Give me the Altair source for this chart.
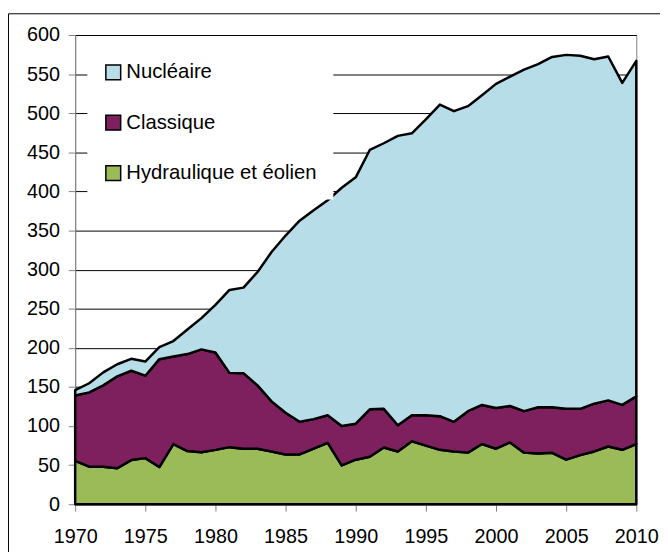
import altair as alt
import pandas as pd

years = list(range(1970, 2011))
hydraulique = [55.6, 48, 48, 46, 56.5, 59, 47.6, 77, 68, 66.6, 69.5, 73, 71, 71, 67.5, 63.7, 63.7, 71, 78.4,
               49.7, 57, 60.7, 72.5, 67.5, 80.5, 75, 69.6, 67.5, 66, 77, 71, 79, 66, 65, 65.8, 57, 62.8, 67.5,
               73.8, 69.6, 77]
classique = [83.4, 95, 104, 117.6, 114.2, 105.4, 137.9, 112, 124, 131.4, 124.5, 95, 96.6, 81, 64, 53.3, 41.7,
             37.8, 35.4, 50.3, 46, 60.7, 49.5, 33.5, 33.3, 38.8, 43, 37.9, 53, 50, 52, 46.6, 53, 59, 58.2, 65,
             59.2, 61.1, 59, 57.4, 61]
nucleaire = [7, 11.7, 16.6, 15.4, 15.3, 18.1, 15.5, 19.7, 31.4, 40, 61, 106, 109.4, 145, 191, 226.6, 257.2,
             267.2, 274.9, 304.7, 315, 331.6, 339.6, 370, 360.5, 378.2, 398.4, 397.2, 390, 396, 414.5, 421.2,
             436.7, 438.8, 448, 452.6, 451.4, 440.4, 439.7, 411.8, 429]

series_names = ["Nucléaire", "Classique", "Hydraulique et éolien"]
series_colors = ["#B7DDE8", "#7E1F5E", "#9BBB59"]
x_ticks = list(range(1970, 2011, 5))
y_ticks = list(range(0, 601, 50))
FONT = "Liberation Sans"

rows = []
for i, yr in enumerate(years):
    rows.append({"annee": yr, "source": "Hydraulique et éolien", "ordre": 0, "valeur": hydraulique[i]})
    rows.append({"annee": yr, "source": "Classique", "ordre": 1, "valeur": classique[i]})
    rows.append({"annee": yr, "source": "Nucléaire", "ordre": 2, "valeur": nucleaire[i]})
df = pd.DataFrame(rows)

areas = alt.Chart(df).mark_area(
    stroke="black", strokeWidth=2.5, strokeJoin="round", fillOpacity=1
).encode(
    x=alt.X("annee:Q",
            scale=alt.Scale(domain=[1970, 2010], nice=False, zero=False),
            axis=alt.Axis(values=x_ticks, format="d", title=None, grid=False,
                          labelPadding=16, tickSize=7, labelFlush=False, labelOverlap=False)),
    y=alt.Y("valeur:Q", stack="zero",
            scale=alt.Scale(domain=[0, 600], nice=False),
            axis=alt.Axis(values=y_ticks, title=None, grid=True, labelPadding=9, tickSize=7,
                          labelOverlap=False, labelFlush=False)),
    color=alt.Color("source:N",
                    scale=alt.Scale(domain=series_names, range=series_colors),
                    legend=alt.Legend(title=None, orient="none", legendX=12.3, legendY=11.5,
                                      fillColor="white", padding=16, symbolType="square",
                                      symbolSize=225, symbolStrokeColor="black",
                                      symbolStrokeWidth=1.5, symbolOpacity=1,
                                      labelFontSize=20.5, labelFont=FONT, labelLimit=400,
                                      labelColor="black", rowPadding=29, labelOffset=3)),
    order=alt.Order("ordre:Q", sort="ascending"),
)

border = alt.Chart(pd.DataFrame({"a": [0]})).mark_rect(
    fill="transparent", stroke="black", strokeWidth=1
).encode(
    x=alt.value(-67.5), x2=alt.value(700), y=alt.value(-21.5), y2=alt.value(700)
)

chart = alt.layer(border, areas).properties(
    width=568, height=475,
    padding={"left": 68, "top": 24, "right": 24, "bottom": 45},
    autosize="none",
).configure(
    font=FONT
).configure_view(
    stroke="#808080", strokeWidth=1
).configure_axis(
    labelFont=FONT, labelFontSize=20, labelColor="black",
    domainColor="#808080", tickColor="#808080", gridColor="black", gridWidth=1,
)

chart.save("out.html", embed_options={"renderer": "svg", "actions": False})
